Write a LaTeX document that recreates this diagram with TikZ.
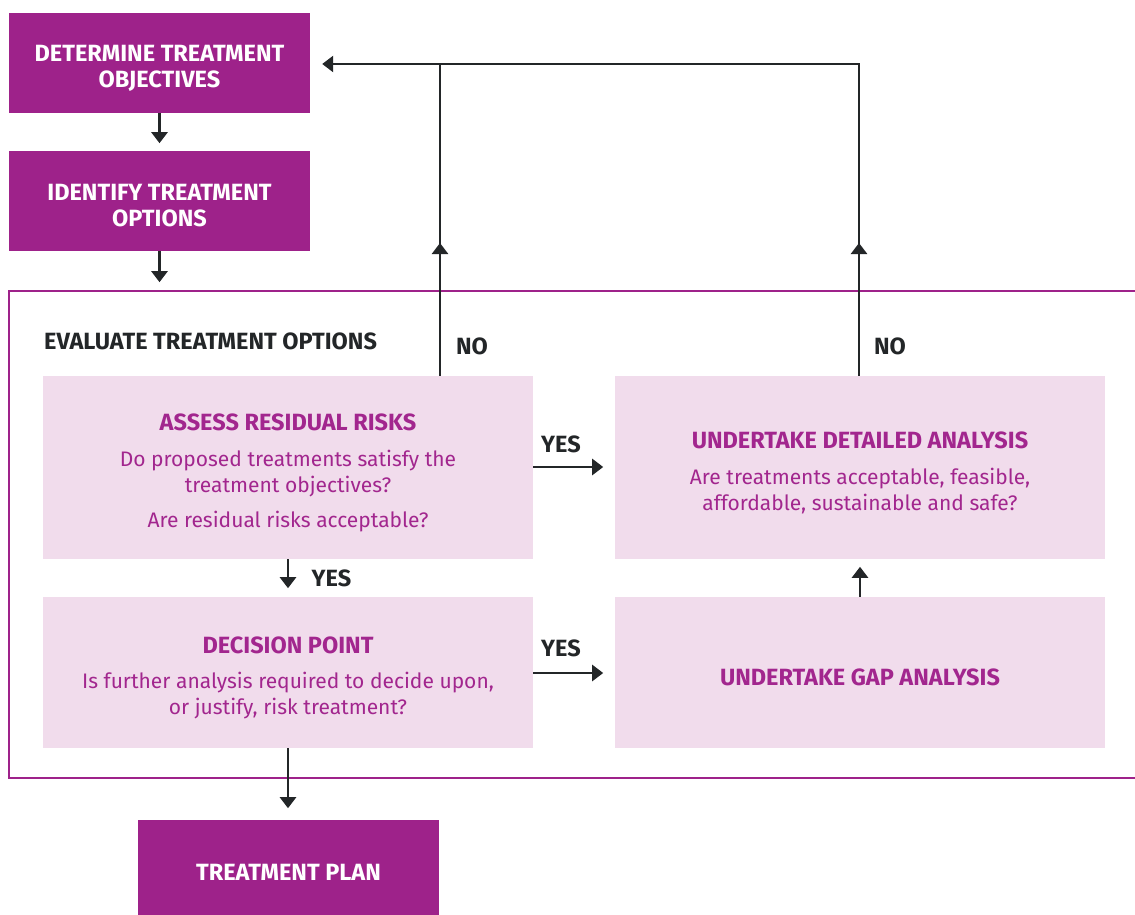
\documentclass[tikz,border=0pt]{standalone}
\usepackage{fontspec}
\setmainfont{Fira Sans}
\usetikzlibrary{arrows.meta}
\definecolor{dpurple}{HTML}{9E228A}
\definecolor{lpink}{HTML}{F1DCEC}
\definecolor{tpurple}{HTML}{A2268E}
\definecolor{darkline}{HTML}{232628}
\newcommand{\hd}[1]{{\fontsize{23.5}{26}\selectfont\bfseries #1}}
\tikzset{
  darkbox/.style={fill=dpurple, minimum width=301pt, minimum height=100pt, inner sep=0pt},
  darktext/.style={text=white, inner sep=0pt, align=center, yshift=-5pt, font=\fontsize{23.5}{26}\selectfont\bfseries},
  lightbox/.style={fill=lpink, minimum width=490pt, minimum height=183pt, inner sep=0pt},
  lighttext/.style={text=tpurple, inner sep=0pt, align=center, yshift=-5pt, font=\fontsize{21}{26}\selectfont},
  conn/.style={draw=darkline, line width=2.5pt},
  arr/.style={conn, -{Triangle[width=16pt,length=11pt]}},
  lbl/.style={text=darkline, font=\fontsize{23.5}{26}\selectfont\bfseries, inner sep=0pt},
  frame/.style={draw=dpurple, line width=2.5pt}
}
\begin{document}
\begin{tikzpicture}[x=1pt,y=-1pt]
\useasboundingbox (0,0) rectangle (1135,915);
\fill[white] (0,0) rectangle (1135,915);
% dark boxes
\node[darkbox] (det) at (159.5,63) {};
\node[darktext] (detT) at (det.center) {DETERMINE TREATMENT\\OBJECTIVES};
\node[darkbox] (ide) at (159.5,201) {};
\node[darktext] (ideT) at (ide.center) {IDENTIFY TREATMENT\\OPTIONS};
\node[darkbox, minimum height=95pt] (plan) at (288.5,867.5) {};
\node[darktext] (planT) at (plan.center) {TREATMENT PLAN};
% frame
\draw[frame] (1140,291) -- (9,291) -- (9,778) -- (1140,778);
\node[lbl, anchor=west] (eval) at (44,341) {EVALUATE TREATMENT OPTIONS};
% light boxes
\node[lightbox] (assess) at (288,467.5) {};
\node[lighttext] (assessT) at (assess.center) {\hd{ASSESS RESIDUAL RISKS}\\[10pt]Do proposed treatments satisfy the\\treatment objectives?\\[9pt]Are residual risks acceptable?};
\node[lightbox] (detail) at (860,467.5) {};
\node[lighttext] (detailT) at (detail.center) {\hd{UNDERTAKE DETAILED ANALYSIS}\\[10pt]Are treatments acceptable, feasible,\\affordable, sustainable and safe?};
\node[lightbox, minimum height=151pt] (dec) at (288,672.5) {};
\node[lighttext] (decT) at (dec.center) {\hd{DECISION POINT}\\[9pt]Is further analysis required to decide upon,\\or justify, risk treatment?};
\node[lightbox, minimum height=151pt] (gap) at (860,672.5) {};
\node[lighttext] (gapT) at (gap.center) {\hd{UNDERTAKE GAP ANALYSIS}};
% coordinates
\coordinate (c1) at (440,64);
\coordinate (c2) at (859,64);
\coordinate (m1) at (440,243);
\coordinate (m2) at (859,243);
% arrows
\draw[arr] (det.south) -- ++(0,30);
\draw[arr] (ide.south) -- ++(0,31);
\draw[conn] (assess.north -| c1) -- (c1);
\draw[arr] (assess.north -| c1) -- (m1);
\draw[conn] (detail.north -| c2) -- (c2) -- (c1);
\draw[arr] (detail.north -| c2) -- (m2);
\draw[arr] (c1) -- ([xshift=12pt]det.east |- c1);
\node[lbl] (no1) at (472,346) {NO};
\node[lbl] (no2) at (890,346) {NO};
\draw[arr] (assess.east |- 0,467) -- ++(70,0);
\node[lbl] (yes1) at (561,444) {YES};
\draw[arr] (assess.south) -- ++(0,29);
\node[lbl] (yes2) at (331.5,578) {YES};
\draw[arr] (dec.east |- 0,673) -- ++(70,0);
\node[lbl] (yes3) at (561,648) {YES};
\draw[arr] (gap.north) -- ++(0,-30);
\draw[arr] (dec.south) -- ++(0,60);
\end{tikzpicture}
\end{document}
